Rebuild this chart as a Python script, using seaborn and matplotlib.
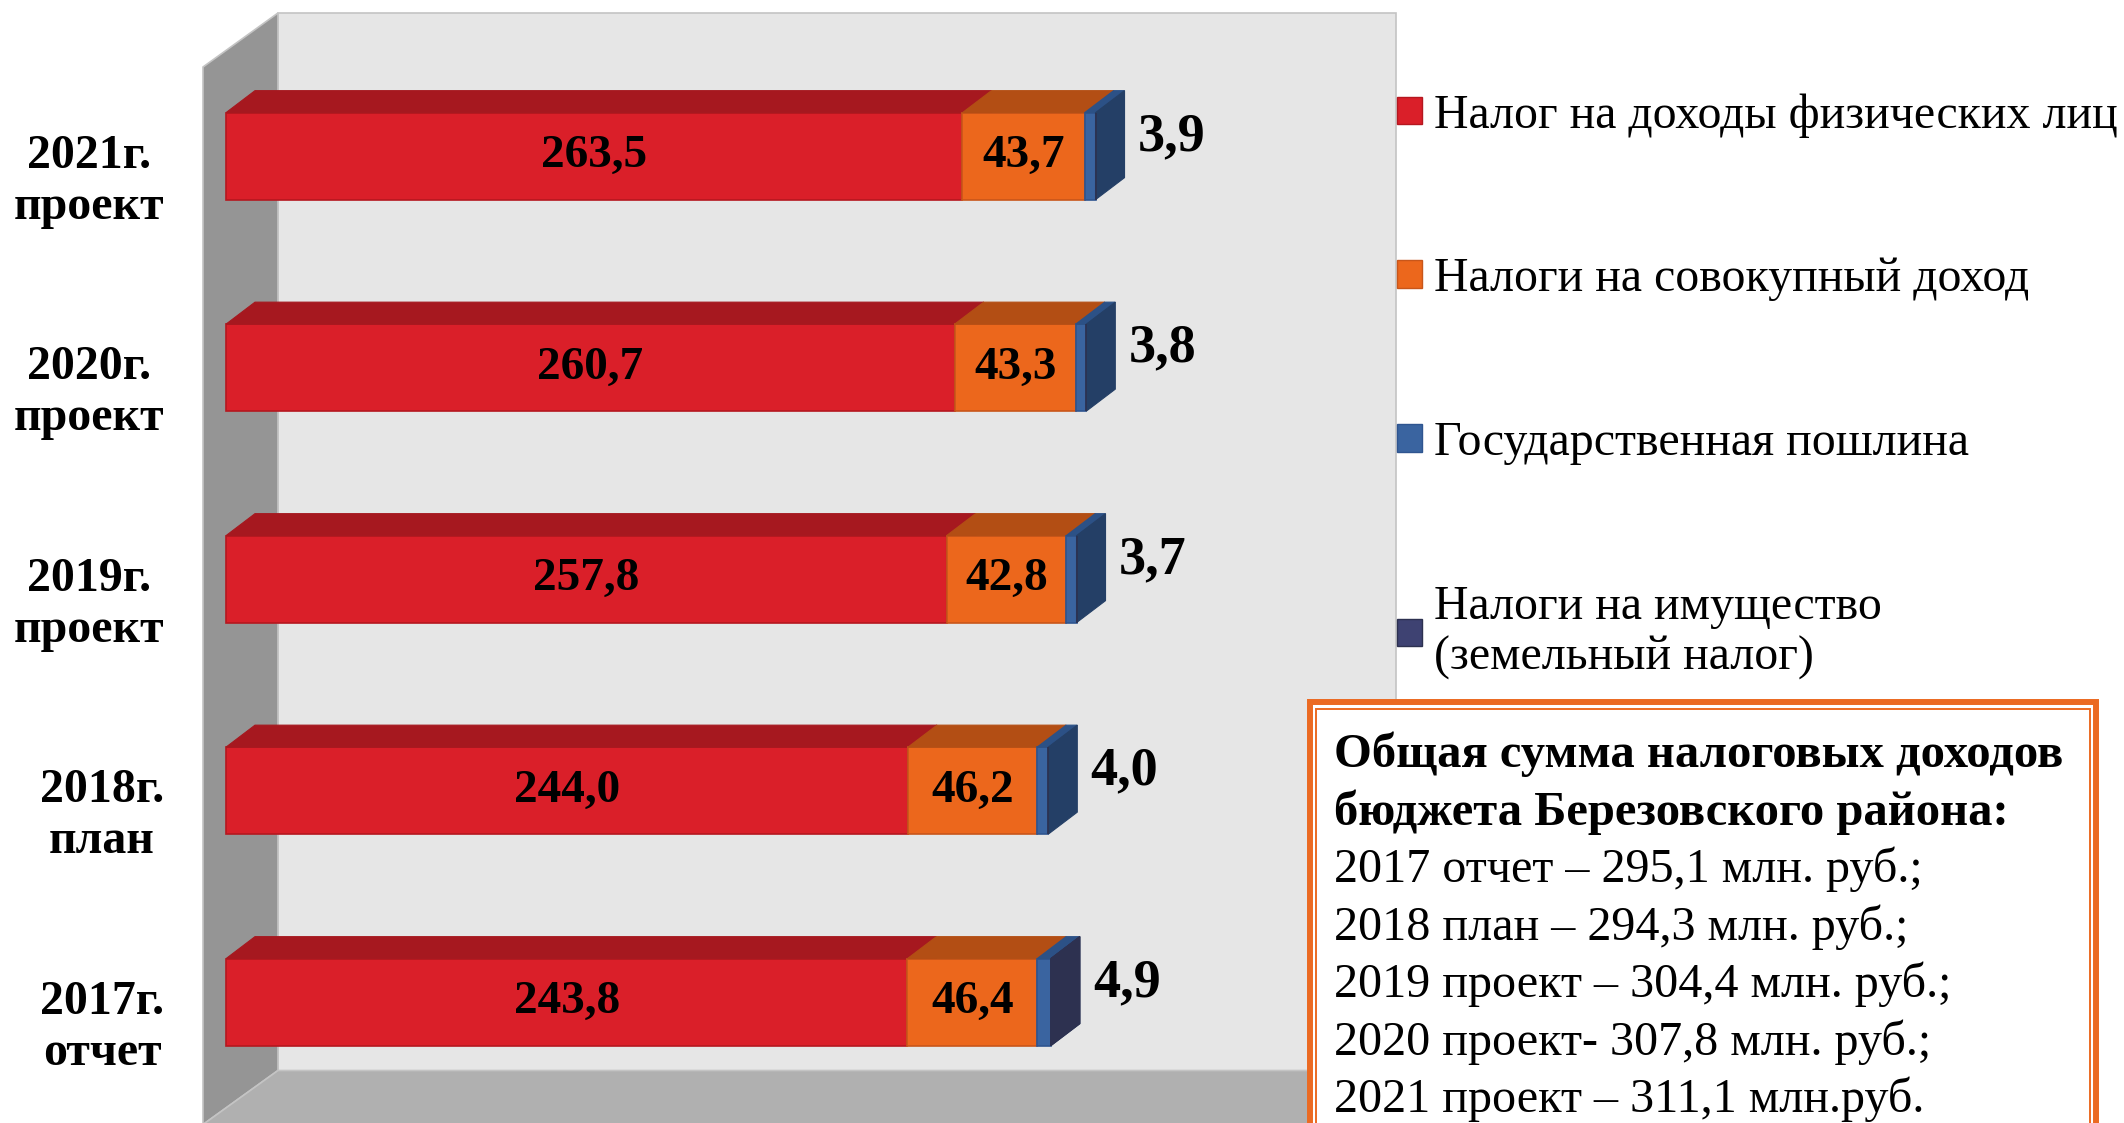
import numpy as np
import pandas as pd
import seaborn as sns
import matplotlib.pyplot as plt
from matplotlib.patches import Polygon, Rectangle, Patch
from matplotlib.transforms import ScaledTranslation

# data, categories listed top to bottom as in the chart
years = ['2021г.\nпроект', '2020г.\nпроект', '2019г.\nпроект', '2018г.\nплан', '2017г.\nотчет']
ndfl = [263.5, 260.7, 257.8, 244.0, 243.8]
sovok = [43.7, 43.3, 42.8, 46.2, 46.4]
gosposhlina = [3.9, 3.8, 3.7, 4.0, 4.9]
imushestvo = [0.0, 0.0, 0.0, 0.0, 0.05]

series_names = ['Налог на доходы физических лиц',
                'Налоги на совокупный доход',
                'Государственная пошлина',
                'Налоги на имущество\n(земельный налог)']

box_title = ['Общая сумма налоговых доходов', 'бюджета Березовского района:']
box_lines = ['2017 отчет – 295,1 млн. руб.;',
             '2018 план – 294,3 млн. руб.;',
             '2019 проект – 304,4 млн. руб.;',
             '2020 проект- 307,8 млн. руб.;',
             '2021 проект – 311,1 млн.руб.']

# colours: front face, top face, side face, outline
front_colors = ['#da1f29', '#ec671c', '#3a64a0', '#3e4272']
top_colors = ['#a6181f', '#b34e14', '#2c5186', '#2f3358']
side_colors = ['#a6181f', '#b34e14', '#243f66', '#2d3150']
edge_colors = ['#b5171f', '#c8561a', '#2f5590', '#2d3150']

W, H, DPI = 2124, 1123, 100
XMAX = 400

sns.set_style('white')
plt.rcParams['font.family'] = ['Liberation Serif', 'DejaVu Serif']
plt.rcParams['text.color'] = 'black'
plt.rcParams['ytick.labelcolor'] = 'black'


def fx(px):
    return px / W


def fy(py):
    return 1 - py / H


def fmt(v):
    return f'{v:.1f}'.replace('.', ',')


fig = plt.figure(figsize=(W / DPI, H / DPI), dpi=DPI)
fig.patch.set_facecolor('white')

# front plane of the 3d plot area, in pixels
ax_left, ax_right, ax_top, ax_bottom = 203, 1321, 67, 1124.5
ax = fig.add_axes([fx(ax_left), fy(ax_bottom), (ax_right - ax_left) / W, (ax_bottom - ax_top) / H])
ppx = (ax_right - ax_left) / XMAX       # pixels per value unit
ppy = (ax_bottom - ax_top) / len(years)  # pixels per category

# depth of walls and bars (pixels -> data units)
wall_dx, wall_dy = 75 / ppx, 54 / ppy
bar_dx, bar_dy = 29 / ppx, 22 / ppy
front_shift = ax.transData + ScaledTranslation(23 / DPI, 16.6 / DPI, fig.dpi_scale_trans)

values = [ndfl, sovok, gosposhlina, imushestvo]
left = [0.0] * len(years)
containers = []
for i, vals in enumerate(values):
    sns.barplot(x=vals, y=years, order=years, orient='h', left=left, width=87 / ppy,
                color=front_colors[i], edgecolor=edge_colors[i], linewidth=1.2,
                saturation=1, zorder=3 + i, ax=ax)
    containers.append(ax.containers[-1])
    left = [a + b for a, b in zip(left, vals)]

ax.set_xlim(0, XMAX)
ax.set_ylim(len(years) - 0.5, -0.5)

# walls and floor
wall_kw = dict(transform=ax.transData, clip_on=False, zorder=0.5, edgecolor='#c4c4c4', linewidth=1.2)
ax.add_patch(Rectangle((wall_dx, -0.5 - wall_dy), XMAX, len(years), facecolor='#e6e6e6', **wall_kw))
ax.add_patch(Polygon([(0, -0.5), (wall_dx, -0.5 - wall_dy), (wall_dx, 4.5 - wall_dy), (0, 4.5)],
                     facecolor='#959595', **wall_kw))
ax.add_patch(Polygon([(0, 4.5), (wall_dx, 4.5 - wall_dy), (XMAX + wall_dx, 4.5 - wall_dy), (XMAX, 4.5)],
                     facecolor='#b0b0b0', **wall_kw))

# 3d faces of the bars
for i, cont in enumerate(containers):
    for p in cont.patches:
        p.set_transform(front_shift)
        x0, y0, w, h = p.get_x(), p.get_y(), p.get_width(), p.get_height()
        if w <= 0:
            continue
        top = Polygon([(x0, y0), (x0 + w, y0), (x0 + w + bar_dx, y0 - bar_dy), (x0 + bar_dx, y0 - bar_dy)],
                      facecolor=top_colors[i], edgecolor=top_colors[i], linewidth=0.8,
                      transform=front_shift, zorder=3 + i)
        side = Polygon([(x0 + w, y0), (x0 + w, y0 + h), (x0 + w + bar_dx, y0 + h - bar_dy),
                        (x0 + w + bar_dx, y0 - bar_dy)],
                       facecolor=side_colors[i], edgecolor=side_colors[i], linewidth=0.8,
                       transform=front_shift, zorder=3 + i)
        ax.add_patch(top)
        ax.add_patch(side)

# value labels
for i in (0, 1):
    for p, v in zip(containers[i].patches, values[i]):
        ax.text(p.get_x() + p.get_width() / 2, p.get_y() + p.get_height() / 2, fmt(v),
                transform=front_shift, ha='center', va='center', fontsize=34,
                fontweight='bold', color='black', zorder=10)
totals = left
for p, tot, v in zip(containers[2].patches, totals, gosposhlina):
    ax.text(tot + bar_dx + 13 / ppx, p.get_y() + p.get_height() / 2 - 19 / ppy, fmt(v),
            transform=front_shift, ha='left', va='center', fontsize=39,
            fontweight='bold', color='black', zorder=10)

# axes styling
ax.patch.set_visible(False)
for s in ax.spines.values():
    s.set_visible(False)
ax.set_xlabel('')
ax.set_ylabel('')
ax.set_xticks([])
ax.set_yticks(range(len(years)))
ax.set_yticklabels(years, fontsize=34.5, fontweight='bold', color='black')
for lbl in ax.get_yticklabels():
    lbl.set_multialignment('center')
ax.set_yticks(np.arange(-0.5, len(years), 1), minor=True)
ax.tick_params(axis='y', which='major', length=0, pad=28)
ax.tick_params(axis='y', which='minor', length=8.6, width=1.5, color='#8c8c8c')

# legend
handles = [Patch(facecolor=c, edgecolor=e, linewidth=1) for c, e in zip(front_colors, edge_colors)]
fig.legend(handles, series_names, loc='upper left', bbox_to_anchor=(fx(1397), fy(93)),
           frameon=False, fontsize=34.5, handlelength=0.52, handleheight=0.52,
           handletextpad=0.25, labelspacing=2.5, borderaxespad=0, borderpad=0,
           labelcolor='black')

# summary box
fig.add_artist(Rectangle((fx(1310), fy(1140)), fx(2096) - fx(1310), fy(701.5) - fy(1140),
                         transform=fig.transFigure, facecolor='white', edgecolor='#eb6a22',
                         linewidth=4.3, zorder=5))
fig.add_artist(Rectangle((fx(1316), fy(1140)), fx(2090) - fx(1316), fy(709) - fy(1140),
                         transform=fig.transFigure, facecolor='none', edgecolor='#eb6a22',
                         linewidth=1.4, zorder=5))
baselines = [767, 825, 882, 940, 997, 1055, 1112]
for k, line in enumerate(box_title + box_lines):
    fig.text(fx(1334), fy(baselines[k]), line, ha='left', va='baseline',
             fontsize=35 if k < 2 else 34.7,
             fontweight='bold' if k < 2 else 'normal', color='black', zorder=6)

fig.savefig('out.png', dpi=DPI)
